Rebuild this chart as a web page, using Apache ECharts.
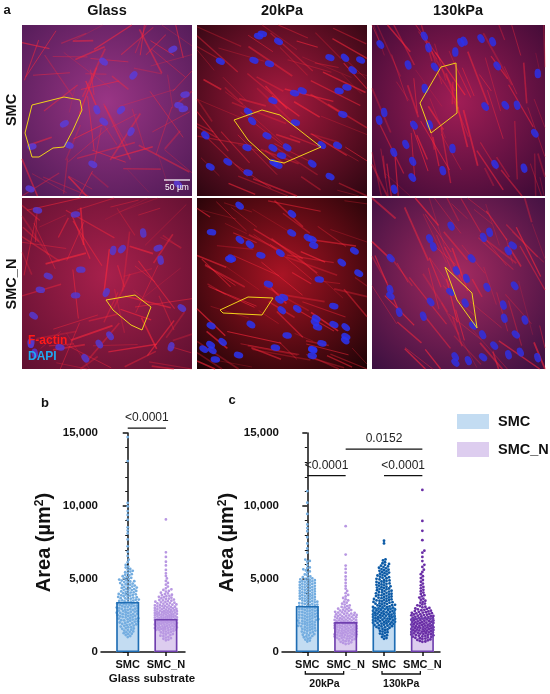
<!DOCTYPE html>
<html style="height: 100%">
<head>
    <meta charset="utf-8">
    <script src="https://cdn.jsdelivr.net/npm/echarts@6/dist/echarts.min.js"></script>
</head>
<body style="height: 100%; margin: 0; background: #fff">
    <div id="main" style="width: 550px; height: 694px"></div>
    <script type="text/javascript">
        var FONT = '"Liberation Sans", Arial, sans-serif';

        // panel a labels
        var substrates = ['Glass', '20kPa', '130kPa'];
        var cellTypes = ['SMC', 'SMC_N'];

        // panel b: glass substrate
        var glassCats = ['SMC', 'SMC_N'];
        var glassMeans = [3425, 2260];
        var glassSMC = [14720, 13080, 10210, 9980, 9650, 9390, 9060, 8540, 8330, 8120, 7710, 7240, 6870, 6580, 6320, 6150, 5960, 5850, 5780, 5690, 5640, 5560, 5510, 5470, 5410, 5330, 5290, 5240, 5190, 5130, 5080, 5040, 5010, 4960, 4920, 4890, 4850, 4830, 4790, 4770, 4720, 4690, 4640, 4610, 4590, 4550, 4520, 4480, 4460, 4410, 4390, 4370, 4330, 4300, 4260, 4240, 4210, 4180, 4150, 4120, 4090, 4070, 4030, 4010, 3980, 3950, 3940, 3910, 3880, 3860, 3820, 3800, 3770, 3750, 3730, 3690, 3670, 3650, 3610, 3590, 3580, 3540, 3520, 3500, 3470, 3450, 3430, 3390, 3370, 3360, 3320, 3300, 3290, 3250, 3230, 3220, 3180, 3160, 3150, 3110, 3090, 3080, 3040, 3020, 3010, 2970, 2950, 2940, 2900, 2880, 2870, 2830, 2810, 2800, 2760, 2740, 2730, 2690, 2670, 2660, 2620, 2600, 2590, 2550, 2530, 2520, 2480, 2460, 2440, 2410, 2390, 2370, 2330, 2310, 2290, 2260, 2240, 2220, 2180, 2160, 2140, 2100, 2080, 2060, 2020, 1990, 1970, 1930, 1900, 1880, 1840, 1810, 1790, 1740, 1710, 1690, 1640, 1610, 1590, 1530, 1500, 1470, 1410, 1380, 1350, 1290, 1250, 1220, 1160, 1090, 1020];
        var glassSMCN = [9080, 6830, 6510, 6180, 5930, 5620, 5390, 5210, 5040, 4870, 4730, 4610, 4480, 4360, 4290, 4250, 4180, 4140, 4060, 4010, 3970, 3920, 3890, 3850, 3820, 3780, 3750, 3720, 3690, 3650, 3620, 3590, 3560, 3530, 3510, 3480, 3450, 3430, 3400, 3380, 3350, 3330, 3310, 3280, 3260, 3240, 3220, 3200, 3180, 3160, 3140, 3120, 3100, 3080, 3060, 3040, 3020, 3000, 2990, 2970, 2950, 2930, 2920, 2900, 2880, 2860, 2850, 2830, 2820, 2800, 2790, 2770, 2760, 2740, 2730, 2710, 2700, 2680, 2670, 2650, 2640, 2620, 2610, 2590, 2580, 2570, 2560, 2540, 2530, 2510, 2500, 2480, 2470, 2450, 2440, 2420, 2410, 2390, 2380, 2370, 2350, 2340, 2320, 2310, 2300, 2290, 2270, 2260, 2240, 2230, 2210, 2200, 2190, 2170, 2160, 2140, 2130, 2110, 2100, 2090, 2070, 2060, 2040, 2030, 2010, 2000, 1990, 1970, 1960, 1940, 1930, 1910, 1890, 1880, 1860, 1840, 1820, 1810, 1790, 1770, 1760, 1740, 1720, 1710, 1690, 1680, 1660, 1640, 1630, 1610, 1600, 1580, 1570, 1550, 1530, 1520, 1500, 1490, 1460, 1430, 1400, 1370, 1340, 1300, 1270, 1230, 1200, 1160, 1120, 1080, 1040, 990, 950, 900, 850, 800];

        // panel c: 20kPa and 130kPa
        var stiffCats = ['SMC', 'SMC_N', 'SMC', 'SMC_N'];
        var stiffGroups = ['20kPa', '130kPa'];
        var stiffMeans = [3150, 2050, 3030, 2350];
        var kpa20SMC = [11020, 10230, 9460, 8740, 8490, 8270, 7860, 7430, 7090, 6810, 6330, 6240, 6190, 5960, 5790, 5740, 5660, 5590, 5520, 5440, 5310, 5260, 5170, 5120, 5080, 5040, 5010, 4980, 4950, 4920, 4890, 4860, 4840, 4810, 4790, 4760, 4730, 4700, 4680, 4650, 4620, 4590, 4560, 4530, 4510, 4480, 4450, 4420, 4400, 4370, 4340, 4310, 4290, 4260, 4230, 4200, 4180, 4150, 4120, 4090, 4070, 4040, 4010, 3980, 3960, 3930, 3900, 3870, 3850, 3820, 3800, 3770, 3740, 3710, 3690, 3660, 3640, 3610, 3590, 3560, 3530, 3500, 3480, 3450, 3430, 3400, 3380, 3350, 3330, 3300, 3280, 3250, 3230, 3200, 3180, 3150, 3130, 3100, 3080, 3050, 3030, 3000, 2980, 2950, 2930, 2900, 2880, 2850, 2830, 2800, 2780, 2750, 2730, 2700, 2680, 2650, 2630, 2600, 2580, 2550, 2530, 2500, 2480, 2450, 2430, 2400, 2380, 2350, 2330, 2300, 2280, 2250, 2230, 2200, 2180, 2150, 2130, 2100, 2080, 2050, 2030, 2000, 1980, 1950, 1920, 1900, 1870, 1840, 1820, 1790, 1760, 1740, 1710, 1680, 1650, 1620, 1590, 1560, 1530, 1500, 1470, 1440, 1400, 1370, 1330, 1300, 1260, 1220, 1180, 1140, 1100, 1060, 1010, 960, 910, 850, 780, 720];
        var kpa20SMCN = [8620, 6670, 5920, 5690, 5430, 5170, 4950, 4730, 4520, 4340, 4180, 4030, 3910, 3800, 3700, 3610, 3530, 3450, 3380, 3310, 3250, 3190, 3140, 3090, 3050, 3010, 2970, 2930, 2900, 2870, 2840, 2810, 2780, 2750, 2720, 2700, 2680, 2650, 2630, 2600, 2580, 2560, 2540, 2520, 2500, 2480, 2460, 2440, 2420, 2400, 2380, 2360, 2340, 2320, 2300, 2280, 2260, 2240, 2220, 2200, 2190, 2170, 2150, 2130, 2110, 2100, 2080, 2060, 2040, 2030, 2010, 1990, 1970, 1960, 1940, 1920, 1900, 1890, 1870, 1850, 1830, 1820, 1800, 1780, 1760, 1750, 1730, 1710, 1690, 1680, 1660, 1640, 1620, 1610, 1590, 1570, 1550, 1540, 1520, 1500, 1480, 1470, 1450, 1430, 1410, 1400, 1380, 1360, 1340, 1330, 1310, 1290, 1270, 1260, 1240, 1220, 1200, 1190, 1170, 1150, 1130, 1120, 1100, 1080, 1060, 1040, 1020, 1000, 980, 960, 940, 910, 890, 860, 830, 800, 770, 740, 700, 660, 620, 580, 540];
        var kpa130SMC = [7620, 7440, 6340, 6270, 6150, 6080, 6030, 5970, 5910, 5860, 5820, 5770, 5730, 5680, 5640, 5600, 5560, 5520, 5480, 5440, 5400, 5360, 5320, 5280, 5240, 5200, 5160, 5120, 5090, 5050, 5010, 4970, 4940, 4900, 4870, 4830, 4800, 4760, 4730, 4700, 4670, 4630, 4600, 4570, 4540, 4500, 4470, 4440, 4410, 4380, 4350, 4320, 4290, 4260, 4230, 4200, 4170, 4140, 4110, 4080, 4050, 4020, 3990, 3960, 3940, 3910, 3880, 3850, 3830, 3800, 3770, 3740, 3720, 3690, 3660, 3630, 3610, 3580, 3560, 3530, 3510, 3480, 3460, 3430, 3410, 3380, 3360, 3330, 3310, 3280, 3260, 3230, 3210, 3190, 3170, 3140, 3120, 3090, 3070, 3050, 3030, 3000, 2980, 2960, 2940, 2910, 2890, 2870, 2850, 2820, 2800, 2780, 2760, 2740, 2720, 2690, 2670, 2650, 2630, 2610, 2590, 2570, 2550, 2530, 2510, 2490, 2470, 2450, 2430, 2410, 2390, 2370, 2350, 2330, 2310, 2290, 2270, 2250, 2230, 2210, 2190, 2170, 2150, 2130, 2110, 2090, 2070, 2050, 2030, 2010, 1990, 1970, 1950, 1920, 1900, 1870, 1850, 1830, 1800, 1770, 1750, 1720, 1690, 1660, 1620, 1580, 1540, 1490, 1450, 1400, 1360, 1310, 1260, 1210, 1150, 1090, 1030, 960, 900];
        var kpa130SMCN = [11100, 8980, 8300, 7660, 6940, 6800, 6510, 6230, 5970, 5830, 5640, 5480, 5330, 5190, 5060, 4930, 4810, 4690, 4570, 4460, 4360, 4260, 4160, 4070, 3980, 3890, 3810, 3730, 3650, 3580, 3510, 3440, 3380, 3320, 3260, 3200, 3150, 3100, 3060, 3020, 2980, 2950, 2920, 2890, 2860, 2830, 2800, 2780, 2750, 2730, 2700, 2680, 2660, 2640, 2610, 2590, 2570, 2550, 2530, 2510, 2490, 2470, 2450, 2430, 2410, 2390, 2370, 2350, 2330, 2310, 2290, 2270, 2250, 2230, 2210, 2200, 2180, 2160, 2140, 2120, 2100, 2080, 2060, 2050, 2030, 2010, 1990, 1970, 1950, 1940, 1920, 1900, 1880, 1860, 1850, 1830, 1810, 1790, 1770, 1760, 1740, 1720, 1700, 1690, 1670, 1650, 1630, 1620, 1600, 1580, 1560, 1550, 1530, 1510, 1490, 1480, 1460, 1440, 1420, 1410, 1390, 1370, 1350, 1340, 1320, 1300, 1280, 1260, 1240, 1220, 1200, 1180, 1160, 1140, 1120, 1100, 1070, 1050, 1030, 1000, 970, 950, 920, 890, 860, 830, 800, 760, 720, 700];

        // significance: [grid, from, to, y-level, label]
        var pTests = [
            [0, 0, 1, 15340, '<0.0001'],
            [1, 0, 1, 12075, '<0.0001'],
            [1, 2, 3, 12075, '<0.0001'],
            [1, 1, 3, 13900, '0.0152']
        ];

        var C = {
            smcFill: '#c3dcf2', smcLine: '#1f6db3',
            smcnFill: '#ddcdef', smcnLine: '#6f3fae',
            smcDot: '#74ade0', smcnDot: '#b897e2',
            smcDotDark: '#0c5aa6', smcnDotDark: '#6a2ea6'
        };

        var myChart = echarts.init(document.getElementById('main'));

        // simple beeswarm: push each dot sideways until it stops overlapping
        function layoutSwarm(pts) {
            var d = 2.6, maxOff = 11, placed = [], out = [];
            var order = pts.map(function (p, i) { return i; })
                .sort(function (a, b) { return pts[b][1] - pts[a][1]; });
            order.forEach(function (i) {
                var cx = pts[i][0], cy = pts[i][1], best = 0, bestGap = -1;
                for (var k = 0; k <= 2 * maxOff * 2; k++) {
                    var off = (k % 2 ? 1 : -1) * Math.ceil(k / 2) * 0.5;
                    var gap = Infinity;
                    for (var j = 0; j < placed.length; j++) {
                        var dx = cx + off - placed[j][0], dy = cy - placed[j][1];
                        if (Math.abs(dy) < d) gap = Math.min(gap, Math.sqrt(dx * dx + dy * dy));
                    }
                    if (gap >= d) { best = off; break; }
                    if (gap > bestGap) { bestGap = gap; best = off; }
                }
                var p = [cx + best, cy];
                placed.push(p);
                out[i] = p;
            });
            return out;
        }

        function swarm(gi, xPos, vals, color) {
            var cache = null;
            return {
                type: 'custom',
                name: 'dots' + gi + xPos,
                xAxisIndex: gi, yAxisIndex: gi,
                z: 3, silent: true, animation: false,
                data: vals.map(function (v) { return [xPos, v]; }),
                renderItem: function (params, api) {
                    if (!cache) {
                        cache = layoutSwarm(vals.map(function (v) { return api.coord([xPos, v]); }));
                    }
                    var p = cache[params.dataIndex];
                    return { type: 'circle', shape: { cx: p[0], cy: p[1], r: 1.4 }, style: { fill: color } };
                }
            };
        }

        function bars(gi, name, xs, means, fill, line, z, outlineOnly) {
            return {
                type: 'bar', name: outlineOnly ? name + ' edge' : name,
                xAxisIndex: gi, yAxisIndex: gi, z: z,
                barWidth: 23, barGap: '-100%', animation: false, silent: true,
                itemStyle: outlineOnly
                    ? { color: 'rgba(0,0,0,0)', borderColor: line, borderWidth: 1.6 }
                    : { color: fill },
                data: xs.map(function (x, i) { return [x, means[i]]; })
            };
        }

        function yAxis(gi, gap) {
            return {
                gridIndex: gi, type: 'value', min: 0, max: 15000, interval: 5000,
                name: 'Area (µm{sup|2})', nameLocation: 'middle', nameGap: gap, nameRotate: 90,
                nameTextStyle: {
                    fontFamily: FONT, fontWeight: 'bold', fontSize: 20, color: '#111',
                    rich: { sup: { fontSize: 12, fontWeight: 'bold', verticalAlign: 'top', padding: [0, 0, 8, 0] } }
                },
                axisLine: { show: true, lineStyle: { color: '#111', width: 1.5 } },
                axisTick: { show: true, length: 5, lineStyle: { color: '#111', width: 1.5 } },
                minorTick: { show: true, splitNumber: 5, length: 2.5, lineStyle: { color: '#111', width: 1 } },
                splitLine: { show: false },
                axisLabel: {
                    margin: 3, fontFamily: FONT, fontWeight: 'bold', fontSize: 11.5, color: '#111',
                    formatter: function (v) { return v.toLocaleString('en-US'); }
                }
            };
        }

        function xAxis(gi, min, max, cats) {
            var vals = cats.map(function (c, i) { return i; });
            return {
                gridIndex: gi, type: 'value', min: min, max: max,
                axisLine: { show: true, onZero: false, lineStyle: { color: '#111', width: 1.5 } },
                axisTick: { show: true, customValues: vals, length: 4, lineStyle: { color: '#111', width: 1.5 } },
                splitLine: { show: false },
                axisLabel: {
                    customValues: vals, margin: 7, fontFamily: FONT, fontWeight: 'bold', fontSize: 11, color: '#111',
                    formatter: function (v) { return cats[Math.round(v)]; }
                }
            };
        }

        var option = {
            animation: false,
            grid: [
                { left: 101, top: 433, width: 84, height: 219 },
                { left: 282, top: 433, width: 158, height: 219 }
            ],
            xAxis: [xAxis(0, -0.7, 1.5, glassCats), xAxis(1, -0.66, 3.46, stiffCats)],
            yAxis: [yAxis(0, 47), yAxis(1, 45)],
            legend: {
                data: ['SMC', 'SMC_N'], orient: 'vertical', left: 452, top: 409,
                itemWidth: 32, itemHeight: 15, itemGap: 13, icon: 'rect', selectedMode: false,
                textStyle: { fontFamily: FONT, fontWeight: 'bold', fontSize: 14.5, color: '#111', padding: [0, 0, 0, 4] }
            },
            series: [
                bars(0, 'SMC', [0], [glassMeans[0]], C.smcFill, C.smcLine, 1),
                bars(0, 'SMC_N', [1], [glassMeans[1]], C.smcnFill, C.smcnLine, 1),
                swarm(0, 0, glassSMC, C.smcDot),
                swarm(0, 1, glassSMCN, C.smcnDot),
                bars(0, 'SMC', [0], [glassMeans[0]], C.smcFill, C.smcLine, 4, true),
                bars(0, 'SMC_N', [1], [glassMeans[1]], C.smcnFill, C.smcnLine, 4, true),

                bars(1, 'SMC', [0, 2], [stiffMeans[0], stiffMeans[2]], C.smcFill, C.smcLine, 1),
                bars(1, 'SMC_N', [1, 3], [stiffMeans[1], stiffMeans[3]], C.smcnFill, C.smcnLine, 1),
                swarm(1, 0, kpa20SMC, C.smcDot),
                swarm(1, 1, kpa20SMCN, C.smcnDot),
                swarm(1, 2, kpa130SMC, C.smcDotDark),
                swarm(1, 3, kpa130SMCN, C.smcnDotDark),
                bars(1, 'SMC', [0, 2], [stiffMeans[0], stiffMeans[2]], C.smcFill, C.smcLine, 4, true),
                bars(1, 'SMC_N', [1, 3], [stiffMeans[1], stiffMeans[3]], C.smcnFill, C.smcnLine, 4, true)
            ]
        };
        myChart.setOption(option);

        // ---- annotations and the image panel of "a" ----
        function px(gi, x, y) { return myChart.convertToPixel({ gridIndex: gi }, [x, y]); }
        function txt(x, y, s, o) {
            o = o || {};
            return {
                type: 'text', x: x, y: y, rotation: o.rot || 0, z: 10,
                style: {
                    text: s, fill: o.color || '#111', fontFamily: FONT,
                    fontWeight: o.weight || 'bold', fontSize: o.size || 14,
                    align: o.align || 'center', verticalAlign: 'middle'
                }
            };
        }
        var g = [];

        // image tiles: the micrographs are only suggested by colour, fibres and nuclei
        var cols = [[22, 170], [197, 170], [372, 173]];
        var rows = [[25, 171], [198, 171]];
        var tileColors = [
            [['#9a3585', '#4e1a55'], ['#a81a40', '#2c0610'], ['#a01d55', '#3a0a35']],
            [['#a8204c', '#5e1030'], ['#a81424', '#1c0306'], ['#a42a60', '#3a1040']]
        ];
        var fibreDir = [[null, 0.5, 1.25], [null, 0.45, 1.0]];
        var nucleusCount = [[16, 34, 30], [22, 44, 34]];
        var nucleusColor = [['#5a3cd8', '#2a32f0', '#2c30e8'], ['#5538d0', '#2a34f2', '#3030e0']];
        function hash(n) { var s = Math.sin(n * 127.1 + 311.7) * 43758.5453; return s - Math.floor(s); }
        function clampTo(v, lo, hi) { return Math.max(lo, Math.min(hi, v)); }
        rows.forEach(function (r, ri) {
            cols.forEach(function (c, ci) {
                var t = ri * 3 + ci + 1;
                g.push({
                    type: 'rect', shape: { x: c[0], y: r[0], width: c[1], height: r[1] },
                    style: {
                        fill: new echarts.graphic.RadialGradient(0.5, 0.45, 0.75, [
                            { offset: 0, color: tileColors[ri][ci][0] },
                            { offset: 1, color: tileColors[ri][ci][1] }
                        ])
                    }
                });
                for (var k = 0; k < 70; k++) {
                    var u = hash(t * 1000 + k * 3), v = hash(t * 1000 + k * 3 + 1), w = hash(t * 1000 + k * 3 + 2);
                    var ang = fibreDir[ri][ci] == null ? w * Math.PI : fibreDir[ri][ci] + (w - 0.5) * 0.7;
                    var len = 20 + 40 * hash(t * 777 + k);
                    var cx = c[0] + u * c[1], cy = r[0] + v * r[1];
                    var dx = Math.cos(ang) * len / 2, dy = Math.sin(ang) * len / 2;
                    g.push({
                        type: 'line', silent: true,
                        shape: {
                            x1: clampTo(cx - dx, c[0], c[0] + c[1]), y1: clampTo(cy - dy, r[0], r[0] + r[1]),
                            x2: clampTo(cx + dx, c[0], c[0] + c[1]), y2: clampTo(cy + dy, r[0], r[0] + r[1])
                        },
                        style: { stroke: 'rgba(255,40,60,' + (0.25 + 0.35 * hash(t * 55 + k)).toFixed(2) + ')', lineWidth: 0.6 + 1.2 * hash(t * 91 + k) }
                    });
                }
                for (var n = 0; n < nucleusCount[ri][ci]; n++) {
                    var a = hash(t * 5000 + n * 2), b = hash(t * 5000 + n * 2 + 1);
                    var rot = fibreDir[ri][ci] == null ? hash(t * 9 + n) * Math.PI : fibreDir[ri][ci] + (hash(t * 9 + n) - 0.5) * 0.6;
                    g.push({
                        type: 'circle', silent: true,
                        x: c[0] + 6 + a * (c[1] - 12), y: r[0] + 6 + b * (r[1] - 12),
                        rotation: -rot, scaleX: 1.5, scaleY: 1,
                        shape: { cx: 0, cy: 0, r: 3.2 },
                        style: { fill: nucleusColor[ri][ci], opacity: 0.85 }
                    });
                }
            });
        });
        // traced cell outlines
        var outlines = [
            [[32, 105], [64, 97], [80, 100], [82, 110], [73, 130], [64, 147], [53, 148], [39, 157], [32, 157], [25, 133]],
            [[234, 120], [262, 110], [280, 115], [321, 147], [284, 163], [270, 160], [248, 140]],
            [[441, 67], [456, 63], [457, 113], [431, 133], [420, 103]],
            [[106, 300], [135, 295], [151, 307], [142, 330], [131, 325], [113, 310]],
            [[220, 310], [248, 297], [273, 298], [262, 315], [223, 313]],
            [[445, 267], [472, 293], [477, 328], [457, 300]]
        ];
        outlines.forEach(function (pts) {
            g.push({ type: 'polygon', z: 5, shape: { points: pts }, style: { fill: 'none', stroke: '#f2d21a', lineWidth: 1 } });
        });
        g.push({ type: 'line', z: 5, shape: { x1: 164, y1: 180, x2: 190, y2: 180 }, style: { stroke: '#fff', lineWidth: 1.2 } });
        g.push(txt(177, 188, '50 µm', { color: '#fff', size: 8.5, weight: 'normal' }));
        g.push(txt(28, 341, 'F-actin', { color: '#ff1a1a', size: 12, align: 'left' }));
        g.push(txt(28, 357, 'DAPI', { color: '#20a8f0', size: 12, align: 'left' }));

        g.push(txt(7, 10, 'a', { size: 13 }));
        substrates.forEach(function (s, i) {
            g.push(txt([107, 282, 458][i], 11, s, { size: 14.5 }));
        });
        cellTypes.forEach(function (s, i) {
            g.push(txt(12, [110, 284][i], s, { size: 14.5, rot: Math.PI / 2 }));
        });

        // panel letters
        g.push(txt(45, 403, 'b', { size: 13 }));
        g.push(txt(232, 400, 'c', { size: 13 }));

        // x group labels
        g.push(txt(152, 679, 'Glass substrate', { size: 11.5 }));
        stiffGroups.forEach(function (s, i) {
            var a = px(1, i * 2, 0), b = px(1, i * 2 + 1, 0), y = 674;
            g.push({
                type: 'polyline', z: 5,
                shape: { points: [[a[0] - 2, y - 3], [a[0] - 2, y], [b[0] - 2, y], [b[0] - 2, y - 3]] },
                style: { fill: 'none', stroke: '#111', lineWidth: 1.3 }
            });
            g.push(txt((a[0] + b[0]) / 2 - 2, 684, s, { size: 10.5 }));
        });

        // significance bars
        pTests.forEach(function (t) {
            var a = px(t[0], t[1], t[3]), b = px(t[0], t[2], t[3]);
            g.push({ type: 'line', z: 5, shape: { x1: a[0], y1: a[1], x2: b[0], y2: b[1] }, style: { stroke: '#111', lineWidth: 1.2 } });
            g.push(txt((a[0] + b[0]) / 2, a[1] - 10, t[4], { size: 12, weight: 'normal', color: '#222' }));
        });

        myChart.setOption({ graphic: g });
    </script>
</body>
</html>
